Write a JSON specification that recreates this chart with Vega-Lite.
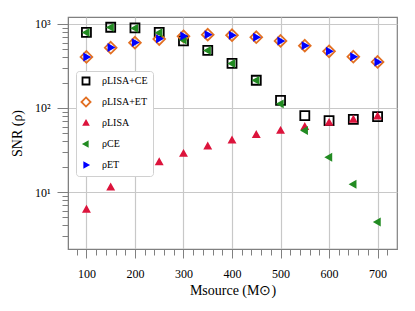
{
  "$schema": "https://vega.github.io/schema/vega-lite/v6.json",
  "autosize": {"type": "none"},
  "width": 329,
  "height": 232,
  "padding": {"left": 68, "top": 17, "right": 18, "bottom": 62},
  "background": "white",
  "config": {
    "font": "Liberation Serif",
    "view": {"stroke": "#808080", "strokeWidth": 1.2},
    "axis": {"domainColor": "#808080", "tickColor": "#808080", "gridColor": "#c8c8c8", "gridWidth": 1.2, "labelColor": "#000", "titleColor": "#000", "labelFont": "Liberation Serif", "titleFont": "Liberation Serif", "labelFontSize": 12, "titleFontSize": 14, "titleFontWeight": "normal"},
    "legend": {"labelFont": "Liberation Serif", "labelFontSize": 10, "labelColor": "#000"}
  },
  "data": {"values": [
    {"M":100,"snr":796,"s":"LISA+CE"},{"M":150,"snr":914,"s":"LISA+CE"},{"M":200,"snr":896,"s":"LISA+CE"},{"M":250,"snr":796,"s":"LISA+CE"},{"M":300,"snr":628,"s":"LISA+CE"},{"M":350,"snr":486,"s":"LISA+CE"},{"M":400,"snr":340,"s":"LISA+CE"},{"M":450,"snr":214,"s":"LISA+CE"},{"M":500,"snr":123,"s":"LISA+CE"},{"M":550,"snr":81,"s":"LISA+CE"},{"M":600,"snr":70.6,"s":"LISA+CE"},{"M":650,"snr":73.3,"s":"LISA+CE"},{"M":700,"snr":78.8,"s":"LISA+CE"},
    {"M":100,"snr":405,"s":"LISA+ET"},{"M":150,"snr":522,"s":"LISA+ET"},{"M":200,"snr":598,"s":"LISA+ET"},{"M":250,"snr":662,"s":"LISA+ET"},{"M":300,"snr":713,"s":"LISA+ET"},{"M":350,"snr":746,"s":"LISA+ET"},{"M":400,"snr":735,"s":"LISA+ET"},{"M":450,"snr":695,"s":"LISA+ET"},{"M":500,"snr":628,"s":"LISA+ET"},{"M":550,"snr":552,"s":"LISA+ET"},{"M":600,"snr":473,"s":"LISA+ET"},{"M":650,"snr":408,"s":"LISA+ET"},{"M":700,"snr":353,"s":"LISA+ET"},
    {"M":100,"snr":6.2,"s":"LISA"},{"M":150,"snr":11.4,"s":"LISA"},{"M":200,"snr":16.7,"s":"LISA"},{"M":250,"snr":22.7,"s":"LISA"},{"M":300,"snr":28.6,"s":"LISA"},{"M":350,"snr":35,"s":"LISA"},{"M":400,"snr":41.2,"s":"LISA"},{"M":450,"snr":48,"s":"LISA"},{"M":500,"snr":53.7,"s":"LISA"},{"M":550,"snr":59.8,"s":"LISA"},{"M":600,"snr":66.8,"s":"LISA"},{"M":650,"snr":73,"s":"LISA"},{"M":700,"snr":79.6,"s":"LISA"},
    {"M":100,"snr":790,"s":"CE"},{"M":150,"snr":910,"s":"CE"},{"M":200,"snr":890,"s":"CE"},{"M":250,"snr":785,"s":"CE"},{"M":300,"snr":645,"s":"CE"},{"M":350,"snr":484,"s":"CE"},{"M":400,"snr":338,"s":"CE"},{"M":450,"snr":213,"s":"CE"},{"M":500,"snr":112,"s":"CE"},{"M":550,"snr":54,"s":"CE"},{"M":600,"snr":26,"s":"CE"},{"M":650,"snr":12.4,"s":"CE"},{"M":700,"snr":4.4,"s":"CE"},
    {"M":100,"snr":405,"s":"ET"},{"M":150,"snr":525,"s":"ET"},{"M":200,"snr":600,"s":"ET"},{"M":250,"snr":668,"s":"ET"},{"M":300,"snr":720,"s":"ET"},{"M":350,"snr":746,"s":"ET"},{"M":400,"snr":735,"s":"ET"},{"M":450,"snr":695,"s":"ET"},{"M":500,"snr":628,"s":"ET"},{"M":550,"snr":552,"s":"ET"},{"M":600,"snr":473,"s":"ET"},{"M":650,"snr":408,"s":"ET"},{"M":700,"snr":353,"s":"ET"}
  ]},
  "mark": {"type": "point", "size": 81, "strokeWidth": 1.8, "opacity": 1, "strokeJoin": "miter"},
  "encoding": {
    "x": {"field": "M", "type": "quantitative", "scale": {"domain": [62, 740], "nice": false, "zero": false},
      "axis": {"title": "Msource (M⊙)", "values": [80,100,120,140,160,180,200,220,240,260,280,300,320,340,360,380,400,420,440,460,480,500,520,540,560,580,600,620,640,660,680,700,720],
        "labelExpr": "datum.value % 100 === 0 ? datum.label : ''", "format": "d", "labelFlush": false, "labelPadding": 10, "titlePadding": 4,
        "tickSize": {"condition": {"test": "datum.value % 100 === 0", "value": 9}, "value": 6},
        "gridOpacity": {"condition": {"test": "datum.value % 100 === 0", "value": 1}, "value": 0}}},
    "y": {"field": "snr", "type": "quantitative", "scale": {"type": "log", "domain": [2.1, 1210], "nice": false},
      "axis": {"title": "SNR (ρ)", "values": [3,4,5,6,7,8,9,10,20,30,40,50,60,70,80,90,100,200,300,400,500,600,700,800,900,1000],
        "labelExpr": "datum.value === 10 ? '10¹' : datum.value === 100 ? '10²' : datum.value === 1000 ? '10³' : ''", "labelPadding": 7, "titlePadding": 10,
        "tickSize": {"condition": {"test": "datum.value === 10 || datum.value === 100 || datum.value === 1000", "value": 11}, "value": 6},
        "gridOpacity": {"condition": {"test": "datum.value === 10 || datum.value === 100 || datum.value === 1000", "value": 1}, "value": 0}}},
    "shape": {"field": "s", "type": "nominal", "scale": {"domain": ["LISA+CE","LISA+ET","LISA","CE","ET"], "range": ["M-1,-1H1V1H-1Z", "M0,-1.3L1.3,0L0,1.3L-1.3,0Z", "M0,-0.65L0.65,0.5L-0.65,0.5Z", "M-0.65,0L0.5,-0.65L0.5,0.65Z", "M0.65,0L-0.5,-0.65L-0.5,0.65Z"]},
      "legend": {"title": null, "orient": "none", "legendX": 8, "legendY": 54, "fillColor": "white", "strokeColor": "#d0d0d0", "cornerRadius": 3, "padding": 5, "rowPadding": 3, "gridAlign": "all", "symbolSize": 49, "symbolStrokeWidth": 1.8, "labelOffset": 11,
        "labelExpr": "'ρ' + datum.label"}},
    "stroke": {"field": "s", "type": "nominal", "scale": {"domain": ["LISA+CE","LISA+ET","LISA","CE","ET"], "range": ["#000000", "#e26f22", "#dc143c", "#228b22", "#0000ff"]}, "legend": {"title": null}},
    "fill": {"field": "s", "type": "nominal", "scale": {"domain": ["LISA+CE","LISA+ET","LISA","CE","ET"], "range": ["transparent", "transparent", "#dc143c", "#228b22", "#0000ff"]}, "legend": {"title": null}}
  }
}
